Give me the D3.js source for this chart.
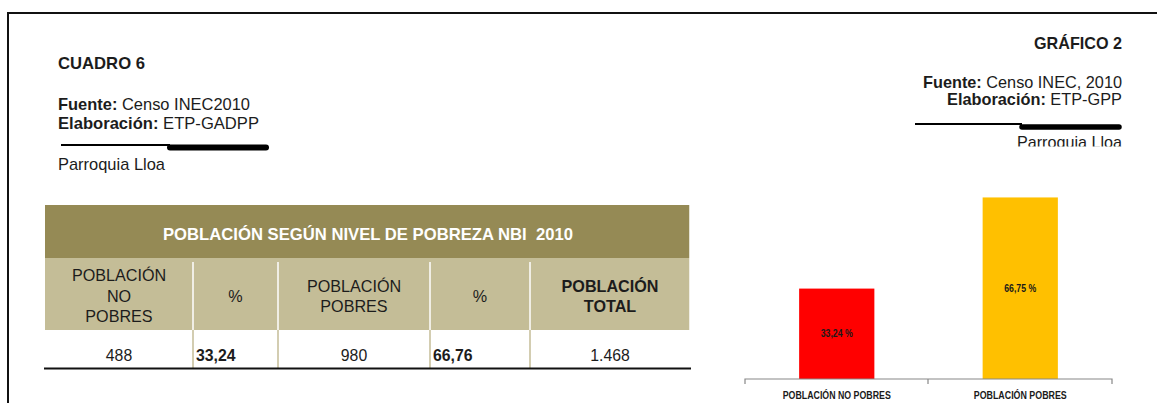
<!DOCTYPE html>
<html>
<head>
  <meta charset="UTF-8">
  <style>
    body { margin: 0; background: #fff; }
    svg { display: block; font-family: "Liberation Sans", Arial, sans-serif; }
  </style>
</head>
<body>
<svg></svg>
<script src="https://d3js.org/d3.v7.min.js"></script>
<script>

// data
const tableTitle = "POBLACIÓN SEGÚN NIVEL DE POBREZA NBI  2010";
const tableHeaders = [["POBLACIÓN", "NO", "POBRES"], ["%"], ["POBLACIÓN", "POBRES"], ["%"], ["POBLACIÓN", "TOTAL"]];
const tableRow = ["488", "33,24", "980", "66,76", "1.468"];
const categories = ["POBLACIÓN NO POBRES", "POBLACIÓN POBRES"];
const percents = [33.24, 66.75];
const barLabels = ["33,24 %", "66,75 %"];
const barColors = ["#ff0000", "#ffc000"];

let width = 1157, height = 403;

let svg = d3.select("svg")
    .attr("width", width)
    .attr("height", height);

// the scan's font is a bit narrower than Arial: squeeze text horizontally
function squeeze(sel, k) {
    sel.each(function() {
        let w = this.getComputedTextLength();
        d3.select(this).attr("textLength", w * k).attr("lengthAdjust", "spacingAndGlyphs");
    });
}

// page frame
svg.append("path")
    .attr("d", "M8," + height + " L8,13 L" + width + ",13")
    .attr("fill", "none")
    .attr("stroke", "#111")
    .attr("stroke-width", 2);

// left block
let left = svg.append("g").attr("fill", "#1c1c1c").style("font-size", "17px");
left.append("text").attr("x", 58).attr("y", 69).attr("font-weight", "bold")
    .attr("textLength", 87).attr("lengthAdjust", "spacingAndGlyphs").text("CUADRO 6");
let f1 = left.append("text").attr("x", 58).attr("y", 110).attr("textLength", 192).attr("lengthAdjust", "spacingAndGlyphs");
f1.append("tspan").attr("font-weight", "bold").text("Fuente: ");
f1.append("tspan").text("Censo INEC2010");
let e1 = left.append("text").attr("x", 58).attr("y", 129).attr("textLength", 201).attr("lengthAdjust", "spacingAndGlyphs");
e1.append("tspan").attr("font-weight", "bold").text("Elaboración: ");
e1.append("tspan").text("ETP-GADPP");
svg.append("line").attr("x1", 61).attr("x2", 170).attr("y1", 145).attr("y2", 145)
    .attr("stroke", "#000").attr("stroke-width", 2);
svg.append("line").attr("x1", 170).attr("x2", 266).attr("y1", 147.5).attr("y2", 147.5)
    .attr("stroke", "#000").attr("stroke-width", 6).attr("stroke-linecap", "round");
left.append("text").attr("x", 58).attr("y", 170)
    .attr("textLength", 107).attr("lengthAdjust", "spacingAndGlyphs").text("Parroquia Lloa");

// right block
let right = svg.append("g").attr("fill", "#1c1c1c").attr("text-anchor", "end").style("font-size", "17px");
right.append("text").attr("x", 1122).attr("y", 49).attr("font-weight", "bold")
    .attr("textLength", 88).attr("lengthAdjust", "spacingAndGlyphs").text("GRÁFICO 2");
let f2 = right.append("text").attr("x", 1122).attr("y", 87.5)
    .attr("textLength", 199).attr("lengthAdjust", "spacingAndGlyphs");
f2.append("tspan").attr("font-weight", "bold").text("Fuente: ");
f2.append("tspan").text("Censo INEC, 2010");
let e2 = right.append("text").attr("x", 1122).attr("y", 104.5)
    .attr("textLength", 175).attr("lengthAdjust", "spacingAndGlyphs");
e2.append("tspan").attr("font-weight", "bold").text("Elaboración: ");
e2.append("tspan").text("ETP-GPP");
svg.append("line").attr("x1", 915).attr("x2", 1022).attr("y1", 124).attr("y2", 124)
    .attr("stroke", "#000").attr("stroke-width", 2);
svg.append("line").attr("x1", 1022).attr("x2", 1119).attr("y1", 127).attr("y2", 127)
    .attr("stroke", "#000").attr("stroke-width", 5.5).attr("stroke-linecap", "round");
svg.append("clipPath").attr("id", "cut")
    .append("rect").attr("x", 900).attr("y", 130).attr("width", 250).attr("height", 16.5);
right.append("text").attr("x", 1122).attr("y", 148).attr("clip-path", "url(#cut)")
    .attr("textLength", 105).attr("lengthAdjust", "spacingAndGlyphs").text("Parroquia Lloa");

// table
let colEdges = [45, 193, 278, 430, 530, 690];
let tbl = svg.append("g").style("font-size", "17px");
tbl.append("rect").attr("x", 45).attr("y", 205).attr("width", 645).attr("height", 53).attr("fill", "#958a55");
tbl.append("text").attr("x", 368).attr("y", 240).attr("text-anchor", "middle")
    .attr("fill", "#fff").attr("font-weight", "bold")
    .style("white-space", "pre")
    .attr("textLength", 410).attr("lengthAdjust", "spacingAndGlyphs")
    .text(tableTitle);
tbl.append("rect").attr("x", 45).attr("y", 258).attr("width", 645).attr("height", 72).attr("fill", "#c4bd97");

tableHeaders.forEach((lines, i) => {
    let cx = (colEdges[i] + colEdges[i + 1]) / 2;
    let y0 = 302 - (lines.length - 1) * 10.3;
    tbl.append("g").selectAll("text")
        .data(lines)
        .join("text")
        .attr("x", cx)
        .attr("y", (d, j) => y0 + j * 20.5)
        .attr("text-anchor", "middle")
        .attr("fill", "#1c1c1c")
        .attr("font-weight", i == 4 ? "bold" : "normal")
        .text(d => d)
        .call(squeeze, 0.95);
});

// column separators
colEdges.slice(1, 5).forEach(x => {
    tbl.append("line").attr("x1", x).attr("x2", x).attr("y1", 262).attr("y2", 330)
        .attr("stroke", "#fff").attr("stroke-width", 1.5);
    tbl.append("line").attr("x1", x).attr("x2", x).attr("y1", 330).attr("y2", 368)
        .attr("stroke", "#c4bd97").attr("stroke-width", 1.5);
});
tbl.append("line").attr("x1", 690).attr("x2", 690).attr("y1", 205).attr("y2", 330)
    .attr("stroke", "#fff").attr("stroke-width", 1.5);

tbl.append("g").selectAll("text")
    .data(tableRow)
    .join("text")
    .attr("x", (d, i) => (i == 1 || i == 3) ? colEdges[i] + 3 : (colEdges[i] + colEdges[i + 1]) / 2)
    .attr("y", 361)
    .attr("text-anchor", (d, i) => (i == 1 || i == 3) ? "start" : "middle")
    .attr("font-weight", (d, i) => (i == 1 || i == 3) ? "bold" : "normal")
    .attr("fill", "#1c1c1c")
    .text(d => d)
    .call(squeeze, 0.93);
tbl.append("line").attr("x1", 44).attr("x2", 691).attr("y1", 368.5).attr("y2", 368.5)
    .attr("stroke", "#111").attr("stroke-width", 2);

// bar chart
let x = d3.scaleBand()
    .domain(categories)
    .range([745, 1112])
    .paddingInner(0.59)
    .paddingOuter(0.295);
let y = d3.scaleLinear()
    .domain([0, 70])
    .range([379, 379 - 70 * 2.72]);

let chart = svg.append("g");
chart.selectAll("rect")
    .data(percents)
    .join("rect")
    .attr("x", (d, i) => x(categories[i]))
    .attr("width", x.bandwidth())
    .attr("y", d => y(d))
    .attr("height", d => y(0) - y(d))
    .attr("fill", (d, i) => barColors[i]);

chart.selectAll("text.val")
    .data(percents)
    .join("text")
    .attr("class", "val")
    .attr("x", (d, i) => x(categories[i]) + x.bandwidth() / 2)
    .attr("y", d => (y(d) + y(0)) / 2 + 3.5)
    .attr("text-anchor", "middle")
    .attr("font-weight", "bold")
    .attr("fill", "#1a1a1a")
    .attr("textLength", 32)
    .attr("lengthAdjust", "spacingAndGlyphs")
    .style("font-size", "10px")
    .text((d, i) => barLabels[i]);

// axis
let axis = chart.append("g").attr("transform", "translate(0,379)");
axis.append("path")
    .attr("d", "M745,5 L745,0 L1112,0 L1112,5 M928,0 L928,5")
    .attr("fill", "none")
    .attr("stroke", "#888")
    .attr("stroke-width", 1.2);
axis.selectAll("text")
    .data(categories)
    .join("text")
    .attr("x", d => x(d) + x.bandwidth() / 2)
    .attr("y", 20)
    .attr("text-anchor", "middle")
    .attr("font-weight", "bold")
    .attr("fill", "#1a1a1a")
    .attr("textLength", (d, i) => i == 0 ? 108 : 93)
    .attr("lengthAdjust", "spacingAndGlyphs")
    .style("font-size", "10.5px")
    .text(d => d);

</script>
</body>
</html>
